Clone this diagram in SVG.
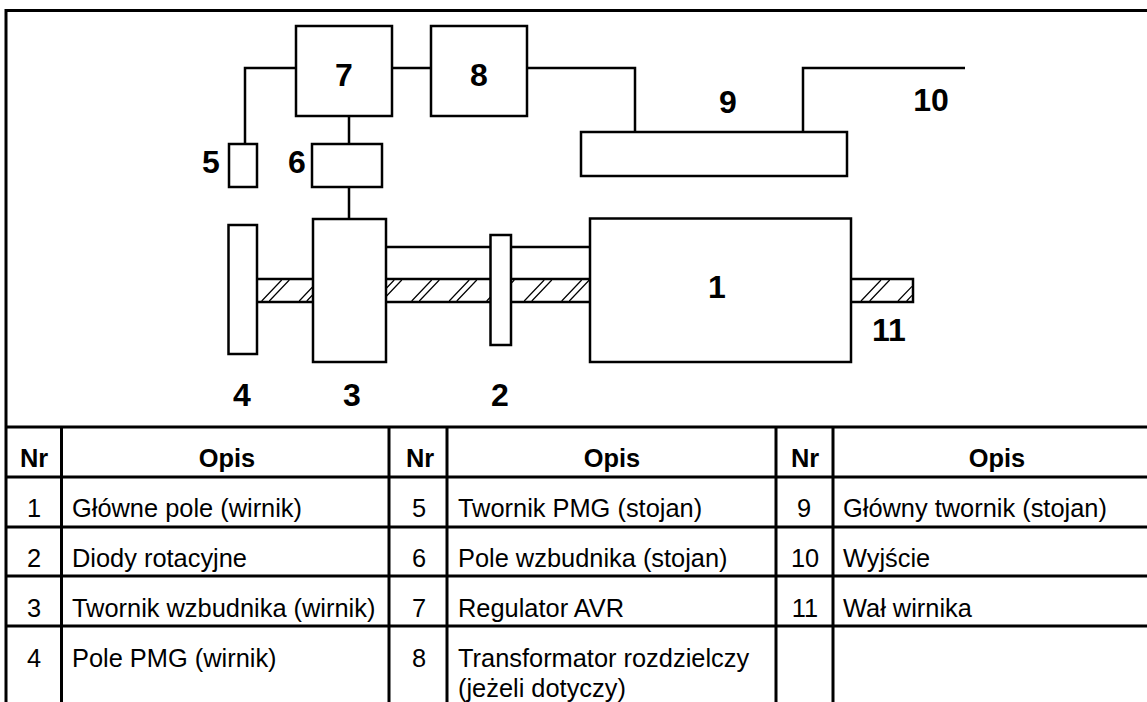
<svg xmlns="http://www.w3.org/2000/svg" width="1147" height="702" viewBox="0 0 1147 702">
<style>
.b{fill:#fff;stroke:#000;stroke-width:2.5}
.l{fill:none;stroke:#000;stroke-width:2.5}
.t{fill:none;stroke:#000;stroke-width:3}
.h{fill:none;stroke:#000;stroke-width:1.2}
text{font-family:"Liberation Sans",Arial,sans-serif;fill:#000}
.n{font-size:32px;font-weight:700;text-anchor:middle}
.th{font-size:25.400px;font-weight:700;text-anchor:middle}
.c{font-size:25.400px}
.m{font-size:25.400px;text-anchor:middle}
</style>
<rect width="1147" height="702" fill="#fff"/>
<g id="connectors">
<path class="l" d="M245 144V68H296M349 116V144M349 187V219M392 68H431M527 68H635V132M803 132V68H965"/>
<path class="l" d="M386 247H590"/>
<path class="l" d="M257 279H313M257 302H313M386 279H590M386 302H590M852 279H913V302H852"/>
<path class="h" d="M261.700 301L281.700 280M269.300 301L289.300 280M299.200 301L319.200 280M306.800 301L326.800 280M336.700 301L356.700 280M344.300 301L364.300 280M374.200 301L394.200 280M381.800 301L401.800 280M411.700 301L431.700 280M419.300 301L439.300 280M449.200 301L469.200 280M456.800 301L476.800 280M486.700 301L506.700 280M494.300 301L514.300 280M524.200 301L544.200 280M531.800 301L551.800 280M561.700 301L581.700 280M569.300 301L589.300 280M861 301L881 280M869.700 301L889.700 280M898 301L912 286.300M906.700 301L912 295.400"/>
</g>
<g id="node-7"><rect class="b" x="296" y="26" width="96" height="90"/><text class="n" x="344" y="86">7</text></g>
<g id="node-8"><rect class="b" x="431" y="26" width="96" height="90"/><text class="n" x="479" y="86">8</text></g>
<g id="node-5"><rect class="b" x="229" y="144" width="28" height="43"/><text class="n" x="211" y="173">5</text></g>
<g id="node-6"><rect class="b" x="312" y="144" width="70" height="43"/><text class="n" x="297" y="173">6</text></g>
<g id="node-9"><rect class="b" x="581" y="132" width="266" height="44"/><text class="n" x="728" y="113">9</text></g>
<g id="node-10"><text class="n" x="931" y="111">10</text></g>
<g id="node-4"><rect class="b" x="228.500" y="225" width="28.500" height="129"/><text class="n" x="242" y="405.500">4</text></g>
<g id="node-3"><rect class="b" x="313" y="219" width="73" height="143"/><text class="n" x="352" y="405.500">3</text></g>
<g id="node-2"><rect class="b" x="490.500" y="235" width="20.500" height="110"/><text class="n" x="500" y="405.500">2</text></g>
<g id="node-1"><rect class="b" x="590" y="218.500" width="261" height="143.500"/><text class="n" x="717" y="298">1</text></g>
<g id="node-11"><text class="n" x="889" y="341">11</text></g>
<g id="table">
<path class="t" d="M6 702V10.500H1147M6 427H1147M6 477H1147M6 527H1147M6 576H1147M6 626H1147M61.500 427V702M389 427V702M447 427V702M776 427V702M833 427V702"/>
<text class="th" x="34" y="467">Nr</text><text class="th" x="227" y="467">Opis</text>
<text class="th" x="420" y="467">Nr</text><text class="th" x="612" y="467">Opis</text>
<text class="th" x="805" y="467">Nr</text><text class="th" x="997" y="467">Opis</text>
<text class="m" x="34" y="517">1</text><text class="c" x="72" y="517">Główne pole (wirnik)</text>
<text class="m" x="419" y="517">5</text><text class="c" x="458" y="517">Twornik PMG (stojan)</text>
<text class="m" x="804" y="517">9</text><text class="c" x="843" y="517">Główny twornik (stojan)</text>
<text class="m" x="34" y="567">2</text><text class="c" x="72" y="567">Diody rotacyjne</text>
<text class="m" x="419" y="567">6</text><text class="c" x="458" y="567">Pole wzbudnika (stojan)</text>
<text class="m" x="805" y="567">10</text><text class="c" x="843" y="567">Wyjście</text>
<text class="m" x="34" y="617">3</text><text class="c" x="72" y="617">Twornik wzbudnika (wirnik)</text>
<text class="m" x="419" y="617">7</text><text class="c" x="458" y="617">Regulator AVR</text>
<text class="m" x="805" y="617">11</text><text class="c" x="843" y="617">Wał wirnika</text>
<text class="m" x="34" y="667">4</text><text class="c" x="72" y="667">Pole PMG (wirnik)</text>
<text class="m" x="419" y="667">8</text><text class="c" x="458" y="667">Transformator rozdzielczy</text>
<text class="c" x="458" y="697">(jeżeli dotyczy)</text>
</g>
</svg>
